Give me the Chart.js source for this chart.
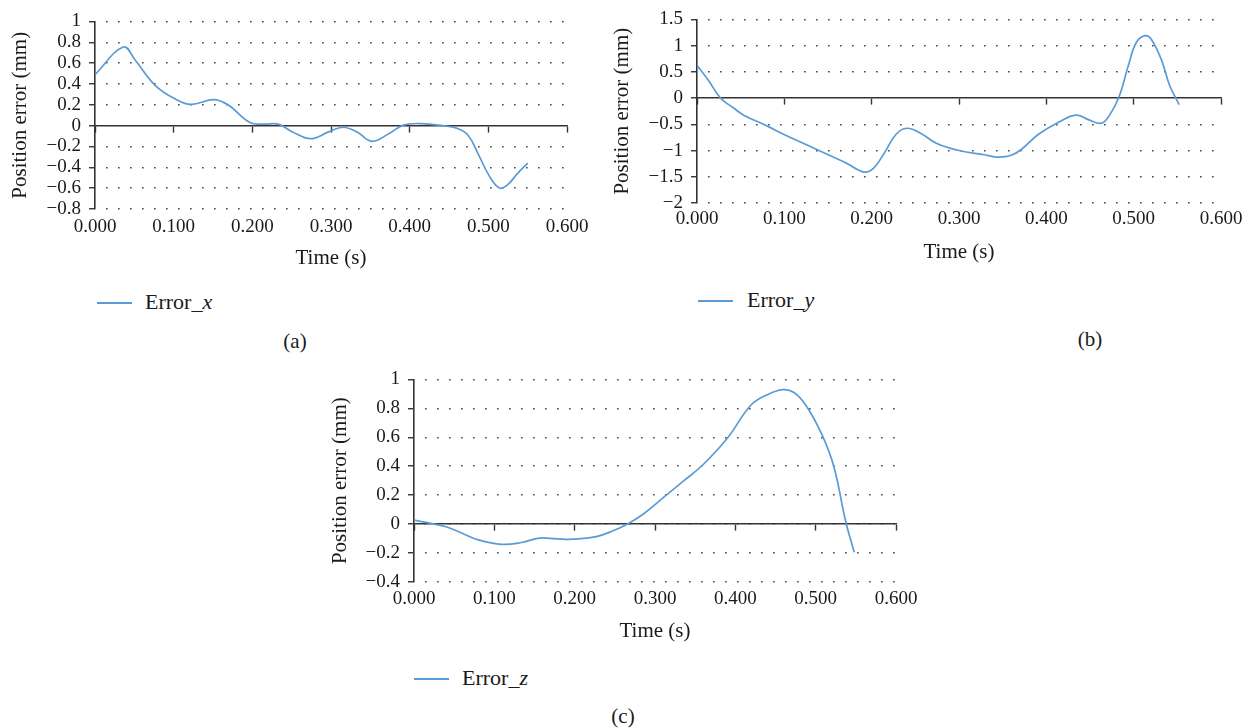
<!DOCTYPE html>
<html>
<head>
<meta charset="utf-8">
<script src="https://cdn.jsdelivr.net/npm/chart.js@4.4.1/dist/chart.umd.min.js"></script>
<style>
  body { margin: 0; width: 1254px; height: 728px; background: #fff; overflow: hidden; position: relative;
         font-family: 'Liberation Serif', 'DejaVu Serif', serif; color: #1a1a1a; }
  canvas { position: absolute; }
  .leg-line { position: absolute; height: 1.6px; width: 35px; background: #5b9bd5; }
  .leg-text { position: absolute; font-size: 22px; line-height: 22px; white-space: nowrap; }
  .sub { position: absolute; font-size: 21px; line-height: 21px; transform: translateX(-50%); }
</style>
</head>
<body>
<canvas id="chartA" width="620" height="280" style="left:0;top:0"></canvas>
<canvas id="chartB" width="654" height="280" style="left:600px;top:0"></canvas>
<canvas id="chartC" width="620" height="300" style="left:320px;top:360px"></canvas>

<div class="leg-line" style="left:97px;top:302px"></div>
<div class="leg-text" style="left:145px;top:291px">Error_<i>x</i></div>
<div class="sub" style="left:295px;top:331px">(a)</div>

<div class="leg-line" style="left:698px;top:300px"></div>
<div class="leg-text" style="left:747px;top:289px">Error_<i>y</i></div>
<div class="sub" style="left:1090px;top:329px">(b)</div>

<div class="leg-line" style="left:414px;top:678px"></div>
<div class="leg-text" style="left:462px;top:667px">Error_<i>z</i></div>
<div class="sub" style="left:623px;top:706px">(c)</div>

<script>
// ------------------------------
//  Datos
// ------------------------------
const timeA = [0, 0.036, 0.051, 0.076, 0.101, 0.122, 0.151, 0.169, 0.197, 0.215, 0.233, 0.251, 0.274,
  0.297, 0.315, 0.333, 0.352, 0.374, 0.392, 0.415, 0.442, 0.46, 0.474, 0.487, 0.501, 0.514, 0.524, 0.537, 0.55];
const errorX = [0.49, 0.755, 0.63, 0.39, 0.26, 0.205, 0.25, 0.2, 0.03, 0.015, 0.015, -0.06, -0.125,
  -0.06, -0.015, -0.06, -0.15, -0.075, 0.005, 0.02, 0, -0.025, -0.09, -0.27, -0.48, -0.598, -0.57, -0.46, -0.36];

const timeB = [0, 0.013, 0.027, 0.042, 0.054, 0.08, 0.099, 0.128, 0.156, 0.171, 0.191, 0.202, 0.214,
  0.228, 0.24, 0.255, 0.274, 0.3, 0.329, 0.345, 0.36, 0.372, 0.391, 0.415, 0.434, 0.448, 0.463, 0.473,
  0.484, 0.494, 0.503, 0.513, 0.52, 0.532, 0.541, 0.552];
const errorY = [0.625, 0.34, 0, -0.19, -0.33, -0.53, -0.69, -0.91, -1.125, -1.24, -1.41, -1.34, -1.06,
  -0.69, -0.575, -0.66, -0.86, -1.0, -1.08, -1.125, -1.09, -0.97, -0.69, -0.45, -0.325, -0.41, -0.48, -0.31,
  0.06, 0.625, 1.06, 1.19, 1.125, 0.72, 0.25, -0.125];

const timeC = [0, 0.021, 0.04, 0.06, 0.08, 0.109, 0.134, 0.156, 0.178, 0.198, 0.227, 0.247, 0.267,
  0.286, 0.311, 0.336, 0.36, 0.39, 0.419, 0.439, 0.459, 0.473, 0.488, 0.508, 0.523, 0.537, 0.548];
const errorZ = [0.027, 0.005, -0.018, -0.063, -0.109, -0.14, -0.127, -0.097, -0.102, -0.104, -0.086, -0.048, 0.005,
  0.072, 0.186, 0.3, 0.412, 0.593, 0.82, 0.892, 0.929, 0.91, 0.82, 0.616, 0.39, 0.027, -0.195];

// rangos de ejes: [min, max, paso]
const timeRange = [0, 0.6, 0.1];
const yRangeA = [-0.8, 1, 0.2];
const yRangeB = [-2, 1.5, 0.5];
const yRangeC = [-0.4, 1, 0.2];

const BLUE = '#5b9bd5';
const INK = '#1a1a1a';
const AXIS = '#333';
const FAM = "'Liberation Serif', 'DejaVu Serif', serif";

// formato de eje Y con signo menos tipográfico
function fmtY(v) {
  return String(Math.round(v * 10) / 10).replace('-', '\u2212');
}

function makeChart(id, times, errors, yRange, lay) {
  const tickFont = { family: FAM, size: 19 };
  const titleFont = { family: FAM, size: 21 };
  return new Chart(document.getElementById(id), {
    type: 'line',
    data: {
      datasets: [{
        data: times.map((t, i) => ({ x: t, y: errors[i] })),
        borderColor: BLUE,
        borderWidth: 1.7,
        pointRadius: 0,
        tension: 0.4,
        fill: false
      }]
    },
    options: {
      responsive: false,
      animation: false,
      layout: { padding: lay.padding },
      plugins: { legend: { display: false }, tooltip: { enabled: false } },
      scales: {
        x: {
          type: 'linear', min: timeRange[0], max: timeRange[1],
          ticks: { stepSize: timeRange[2], padding: lay.xPad, font: tickFont, color: INK,
                   maxRotation: 0, autoSkip: false, callback: v => v.toFixed(3) },
          grid: { display: false, drawTicks: false },
          border: { display: false },
          title: { display: true, text: 'Time (s)', font: titleFont, color: INK, padding: 0 },
          afterFit: s => { s.height = lay.xHeight; }
        },
        y: {
          min: yRange[0], max: yRange[1],
          ticks: { stepSize: yRange[2], padding: 8, font: tickFont, color: INK, autoSkip: false, callback: fmtY },
          grid: {
            color: ctx => (ctx.tick && ctx.tick.value === 0) ? 'rgba(0,0,0,0)' : '#3a3a3a',
            lineWidth: 1.5,
            tickColor: AXIS, tickLength: 6, tickWidth: 1.4, tickBorderDash: []
          },
          border: { color: AXIS, width: 1.6, dash: [1.5, 10.5], dashOffset: 1.5 },
          title: { display: true, text: 'Position error (mm)', font: titleFont, color: INK,
                   padding: { top: lay.yTitlePad, bottom: 0 } },
          afterFit: s => { s.width = lay.yWidth; }
        },
        // línea del cero con sus marcas
        x2: {
          type: 'linear', position: { y: 0 }, min: timeRange[0], max: timeRange[1],
          ticks: { display: false, stepSize: timeRange[2] },
          grid: { drawOnChartArea: false, tickLength: 6, tickColor: AXIS, tickWidth: 1.4 },
          border: { color: AXIS, width: 1.6 },
          afterFit: s => { s.height = 0; }
        }
      }
    }
  });
}

makeChart('chartA', timeA, errorX, yRangeA, {
  yWidth: 95, xHeight: 62, xPad: 7, yTitlePad: 8,
  padding: { left: 0, right: 53, top: 21.5, bottom: 9 }
});
makeChart('chartB', timeB, errorY, yRangeB, {
  yWidth: 97, xHeight: 62, xPad: 5, yTitlePad: 10,
  padding: { left: 0, right: 33, top: 16.5, bottom: 15 }
});
makeChart('chartC', timeC, errorZ, yRangeC, {
  yWidth: 94, xHeight: 62, xPad: 5.5, yTitlePad: 8,
  padding: { left: 0, right: 44, top: 18, bottom: 16 }
});
</script>
</body>
</html>
